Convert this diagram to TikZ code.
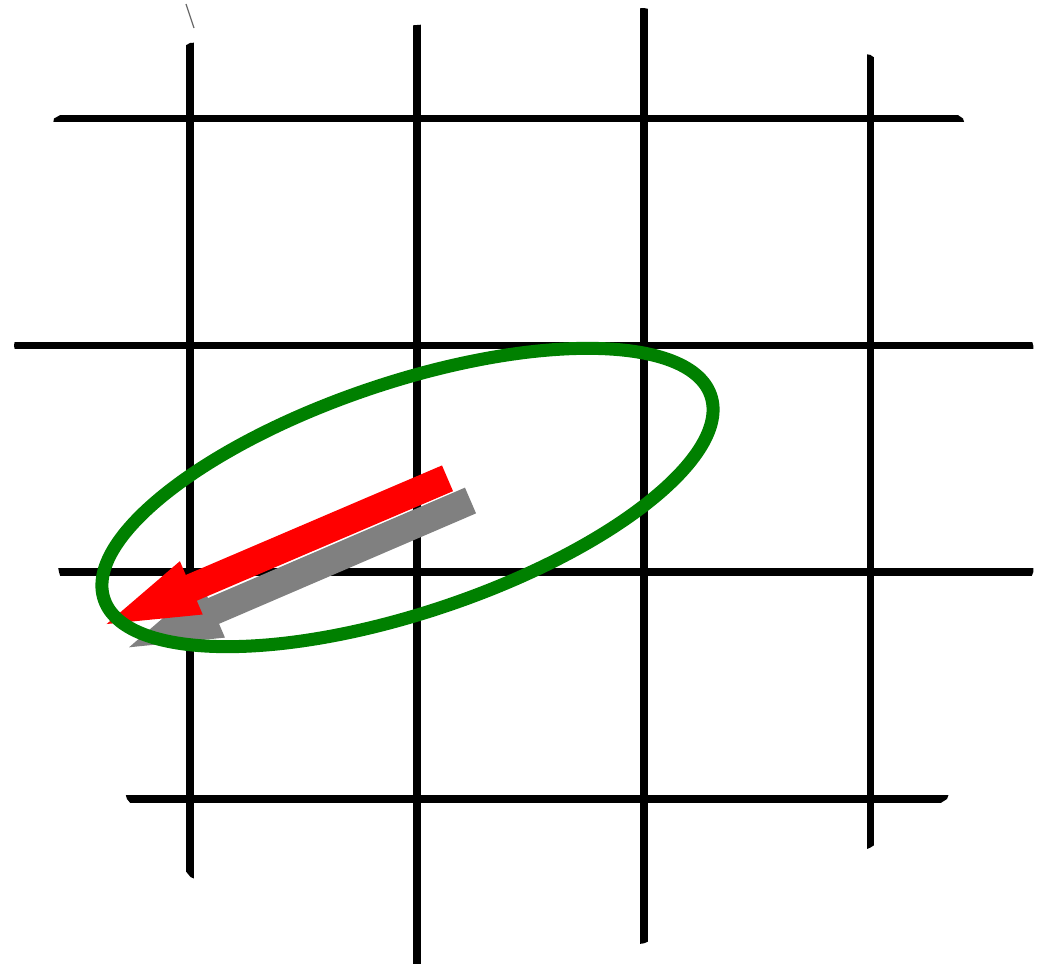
\documentclass[tikz,border=0pt]{standalone}
\usetikzlibrary{calc,shapes.geometric}
\definecolor{ringgreen}{RGB}{0,128,0}
\definecolor{arrowgray}{RGB}{128,128,128}
\tikzset{
  gridline/.style={line width=7.5pt,black,line cap=butt},
  ring/.style={ellipse,draw=ringgreen,line width=13pt,inner sep=0pt,minimum width=640pt,minimum height=230pt},
}
\newcommand{\fatarrow}[3]{%
  \path ($(#3)!92pt!(#2)$) coordinate (hb#2);
  \fill[#1] ($(#2)!14pt!90:(#3)$) -- ($(hb#2)!14pt!90:(#3)$) -- ($(hb#2)!29pt!90:(#3)$) -- (#3)
     -- ($(hb#2)!29pt!-90:(#3)$) -- ($(hb#2)!14pt!-90:(#3)$) -- ($(#2)!14pt!-90:(#3)$) -- cycle;
}
\begin{document}
\begin{tikzpicture}[x=1pt,y=-1pt]
\useasboundingbox (0,0) rectangle (1045,964);
\begin{scope}
  \clip (190,43) -- (417,25) -- (644,8) -- (870.5,55) -- (963,118.5) -- (1033.3,345.5)
     -- (1033.3,572) -- (947,799) -- (870.5,847.5) -- (644,943.3) -- (417,975) -- (190.5,877)
     -- (127,799) -- (59,572) -- (14,345.5) -- (54,118.5) -- cycle;
  \foreach \gx in {190,417,644,870.5} \draw[gridline] (\gx,-10) -- (\gx,980);
  \foreach \gy in {118.5,345.5,572,799} \draw[gridline] (-10,\gy) -- (1060,\gy);
\end{scope}
\draw[line width=1.2pt,black!60] (186,4) -- (194,28);
\coordinate (gtail) at (470.5,500.5);
\coordinate (gtip) at (129,647.3);
\coordinate (rtail) at (447.5,478.3);
\coordinate (rtip) at (106.7,624);
\fatarrow{arrowgray}{gtail}{gtip}
\fatarrow{red}{rtail}{rtip}
\node[ring,rotate=18.55] (ring) at (407.5,497.5) {};
\end{tikzpicture}
\end{document}
